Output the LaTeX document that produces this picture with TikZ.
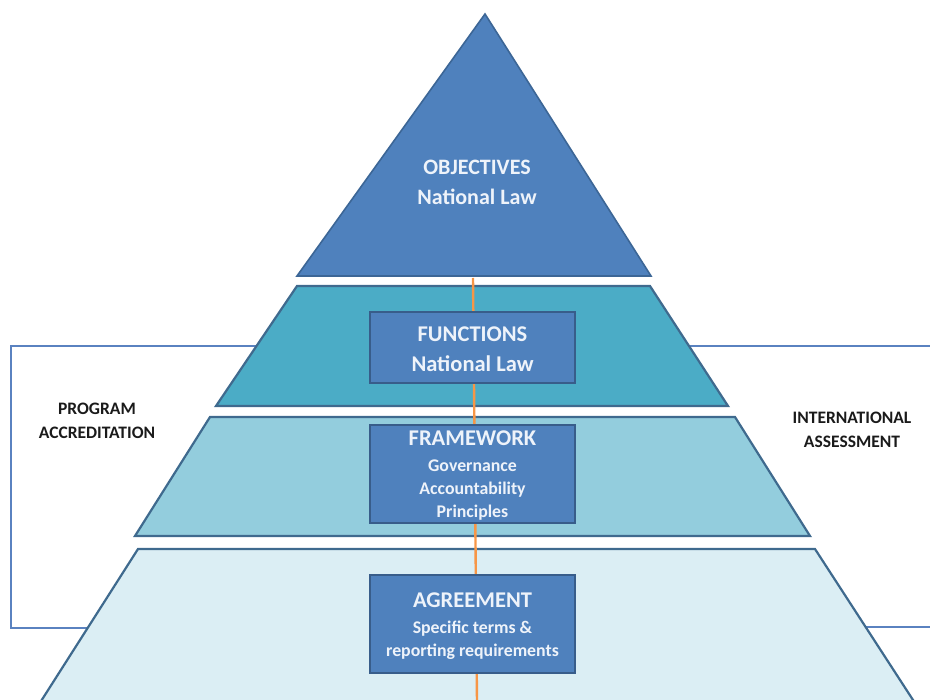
\documentclass[tikz,border=0pt]{standalone}
\usepackage{fontspec}
\setmainfont{Carlito}
\definecolor{triblue}{HTML}{4F81BD}
\definecolor{triedge}{HTML}{3C6696}
\definecolor{aquaone}{HTML}{4BACC6}
\definecolor{aquatwo}{HTML}{93CDDD}
\definecolor{aquathree}{HTML}{DBEEF4}
\definecolor{layeredge}{HTML}{3F6A8E}
\definecolor{boxfill}{HTML}{4F81BD}
\definecolor{boxedge}{HTML}{385D8A}
\definecolor{bracketblue}{HTML}{5A82C0}
\definecolor{orangeline}{HTML}{F79646}
\definecolor{lighttext}{HTML}{EEF3FA}
\definecolor{darktext}{HTML}{1A1A1A}
\begin{document}
\begin{tikzpicture}[x=1pt,y=-1pt,
  layer/.style={draw=layeredge,line width=2.2pt,line join=miter},
  bracket/.style={draw=bracketblue,line width=2.4pt},
  axis/.style={draw=orangeline,line width=2.4pt},
  ibox/.style={draw=boxedge,fill=boxfill,line width=1.8pt,minimum width=205pt,inner sep=0pt},
  boxtext/.style={text=lighttext,align=center,inner sep=0pt,font=\bfseries},
  sidetext/.style={text=darktext,align=center,inner sep=0pt,font=\bfseries\fontsize{17.5}{24}\selectfont}]
\useasboundingbox (0,0) rectangle (930,700);
\clip (0,0) rectangle (930,700);
% brackets (behind the layers)
\coordinate (lt) at (11,346);
\coordinate (lb) at (11,628);
\draw[bracket] (300,346) -- (lt) -- (lb) -- (300,628);
\draw[bracket] (640,346) -- (940,346);
\draw[bracket] (800,627) -- (940,627);
% layers
\filldraw[layer,fill=triblue,draw=triedge,line width=1.6pt] (485,14) -- (651,276) -- (297,276) -- cycle;
\filldraw[layer,fill=aquaone] (297,286) -- (650,286) -- (728,406) -- (216,406) -- cycle;
\filldraw[layer,fill=aquatwo] (210,417) -- (735,417) -- (810,536) -- (135,536) -- cycle;
\filldraw[layer,fill=aquathree] (138,549) -- (815,549) -- (926,720) -- (29,720) -- cycle;
% central axis
\coordinate (axtop) at (473,278);
\coordinate (axbot) at (477,702);
\draw[axis] (axtop) -- (axbot);
% texts and boxes
\node[boxtext,font=\bfseries\fontsize{22}{30}\selectfont] (objectives) at (477,182) {OBJECTIVES\\National Law};
\node[ibox,minimum height=71pt] (functions) at (472.5,347.5) {};
\node[boxtext,font=\bfseries\fontsize{22.5}{30}\selectfont] (functionstxt) at (472.5,349) {FUNCTIONS\\National Law};
\node[ibox,minimum height=98pt] (framework) at (472.5,474) {};
\node[boxtext,font=\bfseries\fontsize{17.8}{23}\selectfont] (frameworktxt) at (472.5,476) {{\fontsize{22.5}{26}\selectfont FRAMEWORK}\\[3pt]Governance\\Accountability\\Principles};
\node[ibox,minimum height=98pt] (agreement) at (472.5,624) {};
\node[boxtext,font=\bfseries\fontsize{17.8}{23}\selectfont] (agreementtxt) at (472.5,626) {{\fontsize{22.5}{26}\selectfont AGREEMENT}\\[3pt]Specific terms \&\\reporting requirements};
\node[sidetext] (program) at (97,421) {PROGRAM\\ACCREDITATION};
\node[sidetext] (international) at (852,430) {INTERNATIONAL\\ASSESSMENT};
\end{tikzpicture}
\end{document}
